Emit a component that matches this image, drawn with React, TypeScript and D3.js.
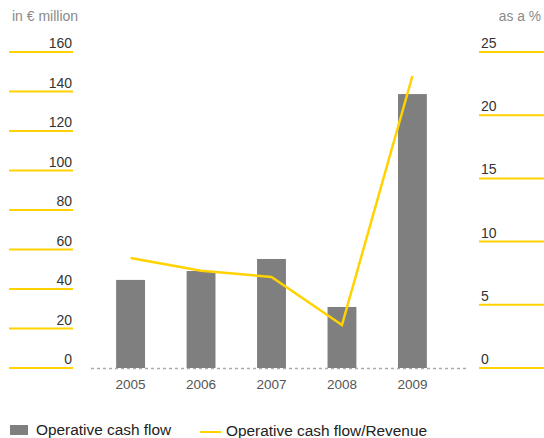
import React from "react";
import * as d3 from "d3";

const years = ["2005", "2006", "2007", "2008", "2009"];
const cashFlow = [44.6, 49.1, 55.2, 30.9, 138.7];
const ratio = [8.7, 7.7, 7.2, 3.4, 23.1];
const leftTicks = [0, 20, 40, 60, 80, 100, 120, 140, 160];
const rightTicks = [0, 5, 10, 15, 20, 25];

const W = 544;
const H = 438;
const FONT = "'Liberation Sans', Arial, Helvetica, sans-serif";
const YELLOW = "#ffd200";
const GREY = "#7f7f80";

export default function App() {
  const x = d3.scaleBand<string>().domain(years).range([95, 448]).paddingInner(0.59).paddingOuter(0.3);
  const yL = d3.scaleLinear().domain([0, 160]).range([368, 52]);
  const yR = d3.scaleLinear().domain([0, 25]).range([368, 52]);
  const cx = (d: string) => (x(d) as number) + x.bandwidth() / 2;
  const line = d3
    .line<number>()
    .x((_, i) => cx(years[i]))
    .y((d) => yR(d));

  return (
    <svg
      width={W}
      height={H}
      style={{ position: "absolute", left: 0, top: 0, background: "#fff" }}
      fontFamily={FONT}
    >
      <text x={12} y={21} fontSize={14} fill="#8a8a8a">
        in € million
      </text>
      <text x={541} y={21} fontSize={13.8} fill="#8a8a8a" textAnchor="end">
        as a %
      </text>
      {leftTicks.map((t) => (
        <g key={"l" + t}>
          <line x1={9} x2={73} y1={yL(t)} y2={yL(t)} stroke={YELLOW} strokeWidth={2} />
          <text x={72} y={yL(t) - 4} fontSize={14} fill="#333" textAnchor="end">
            {t}
          </text>
        </g>
      ))}
      {rightTicks.map((t) => (
        <g key={"r" + t}>
          <line x1={479} x2={544} y1={yR(t)} y2={yR(t)} stroke={YELLOW} strokeWidth={2} />
          <text x={481} y={yR(t) - 4} fontSize={14} fill="#333">
            {t}
          </text>
        </g>
      ))}
      <line x1={91} x2={466} y1={368.5} y2={368.5} stroke="#aaa" strokeWidth={1.5} strokeDasharray="3,3" />
      {years.map((yr, i) => (
        <rect
          key={yr}
          x={x(yr)}
          y={yL(cashFlow[i])}
          width={x.bandwidth()}
          height={yL(0) - yL(cashFlow[i])}
          fill={GREY}
        />
      ))}
      <path d={line(ratio) || ""} fill="none" stroke={YELLOW} strokeWidth={2.5} strokeLinejoin="miter" />
      {years.map((yr) => (
        <text key={"t" + yr} x={cx(yr)} y={389} fontSize={13.5} fill="#555" textAnchor="middle">
          {yr}
        </text>
      ))}
      <rect x={10} y={425} width={18} height={10} fill={GREY} />
      <text x={36} y={435} fontSize={15.4} fill="#222">
        Operative cash flow
      </text>
      <line x1={200} x2={221} y1={432} y2={432} stroke={YELLOW} strokeWidth={2} />
      <text x={226} y={436} fontSize={15.4} fill="#222">
        Operative cash flow/Revenue
      </text>
    </svg>
  );
}
